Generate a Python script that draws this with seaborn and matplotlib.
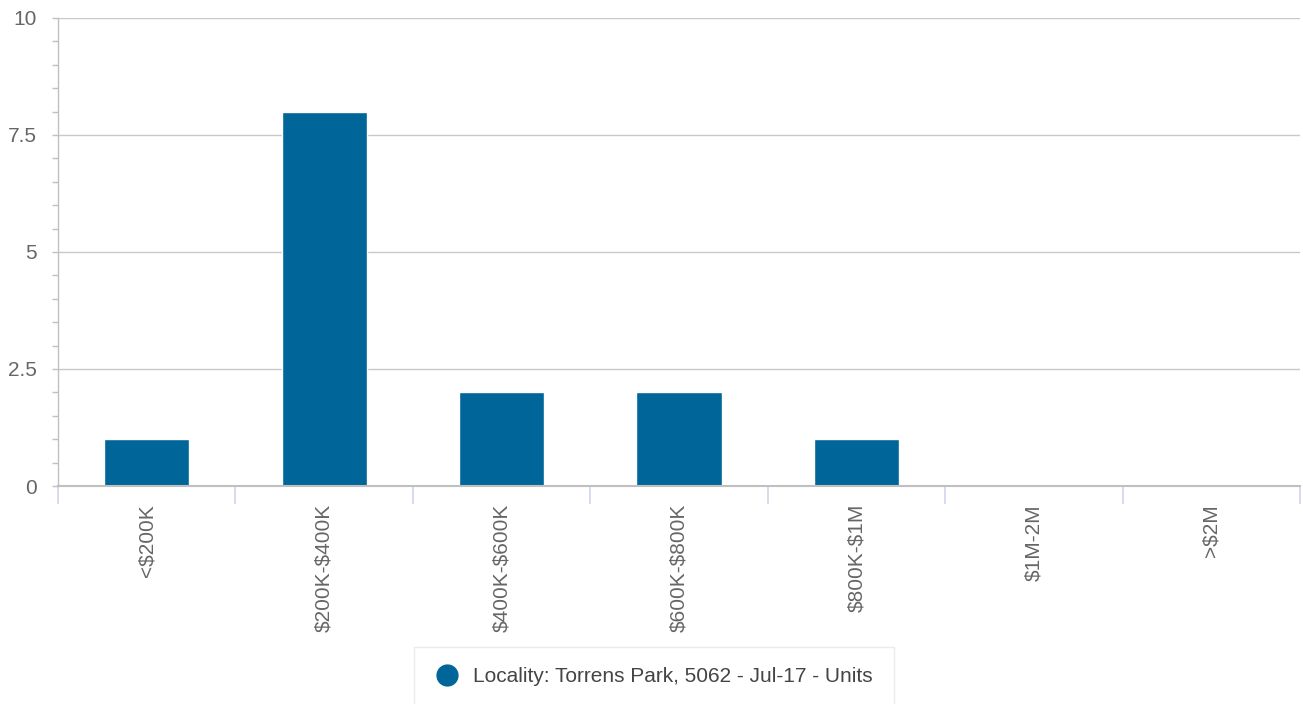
import matplotlib
matplotlib.use("Agg")
import matplotlib.pyplot as plt
from matplotlib.lines import Line2D
from matplotlib.ticker import MultipleLocator, FixedLocator
import seaborn as sns
import pandas as pd

categories = ["<$200K", "$200K-$400K", "$400K-$600K", "$600K-$800K", "$800K-$1M", "$1M-2M", ">$2M"]
values = [1, 8, 2, 2, 1, 0, 0]
series_name = "Locality: Torrens Park, 5062 - Jul-17 - Units"
y_ticks = [0, 2.5, 5, 7.5, 10]
y_tick_labels = ["0", "2.5", "5", "7.5", "10"]

BAR = "#006699"
TXT = "#666666"

sns.set_theme(style="white")
plt.rcParams["font.family"] = ["Liberation Sans", "DejaVu Sans"]
plt.rcParams["text.parse_math"] = False

df = pd.DataFrame({"cat": categories, "val": values})

fig = plt.figure(figsize=(13.03, 7.04), dpi=100)
ax = fig.add_axes([58 / 1303, 1 - 486 / 704, (1300 - 58) / 1303, (486 - 18) / 704])

sns.barplot(data=df, x="cat", y="val", color=BAR, width=0.48, saturation=1, ax=ax, zorder=3)

ax.set_xlim(-0.5, len(categories) - 0.5)
ax.set_ylim(0, 10)
ax.set_xlabel("")
ax.set_ylabel("")

# y axis
ax.yaxis.set_major_locator(FixedLocator(y_ticks))
ax.set_yticklabels(y_tick_labels)
ax.yaxis.set_minor_locator(MultipleLocator(0.5))
ax.tick_params(axis="y", which="major", length=4.5, width=1, color="#c0c0c0",
               labelsize=15, labelcolor=TXT, pad=11, left=True)
ax.tick_params(axis="y", which="minor", length=4.5, width=1, color="#c0c0c0", left=True)
ax.grid(axis="y", which="major", color="#c8c8c8", linewidth=1, zorder=0)

# x axis
ax.xaxis.set_minor_locator(FixedLocator([i - 0.5 for i in range(len(categories) + 1)]))
ax.tick_params(axis="x", which="major", length=0, labelsize=15, labelcolor=TXT,
               pad=13, labelrotation=90, bottom=True)
ax.tick_params(axis="x", which="minor", length=13, width=1.2, color="#ccd6eb", bottom=True)
for lbl in ax.get_xticklabels():
    lbl.set_va("top")
    lbl.set_ha("center")

for s in ["top", "right"]:
    ax.spines[s].set_visible(False)
ax.spines["left"].set_color("#c0c0c0")
ax.spines["left"].set_linewidth(1)
ax.spines["bottom"].set_color("#c0c0c0")
ax.spines["bottom"].set_linewidth(1.5)
ax.spines["bottom"].set_zorder(4)

handle = Line2D([], [], marker="o", linestyle="none", markersize=15,
                markerfacecolor=BAR, markeredgecolor=BAR)
leg = fig.legend([handle], [series_name], loc="center", bbox_to_anchor=(654 / 1303, 1 - 677 / 704),
                 frameon=True, fontsize=15, labelcolor="#444444", handletextpad=0.65,
                 borderpad=1.0, borderaxespad=0, fancybox=False, edgecolor="#e6e6e6",
                 handlelength=1.2)
leg.get_frame().set_linewidth(1)

fig.savefig("out.png", dpi=100)
